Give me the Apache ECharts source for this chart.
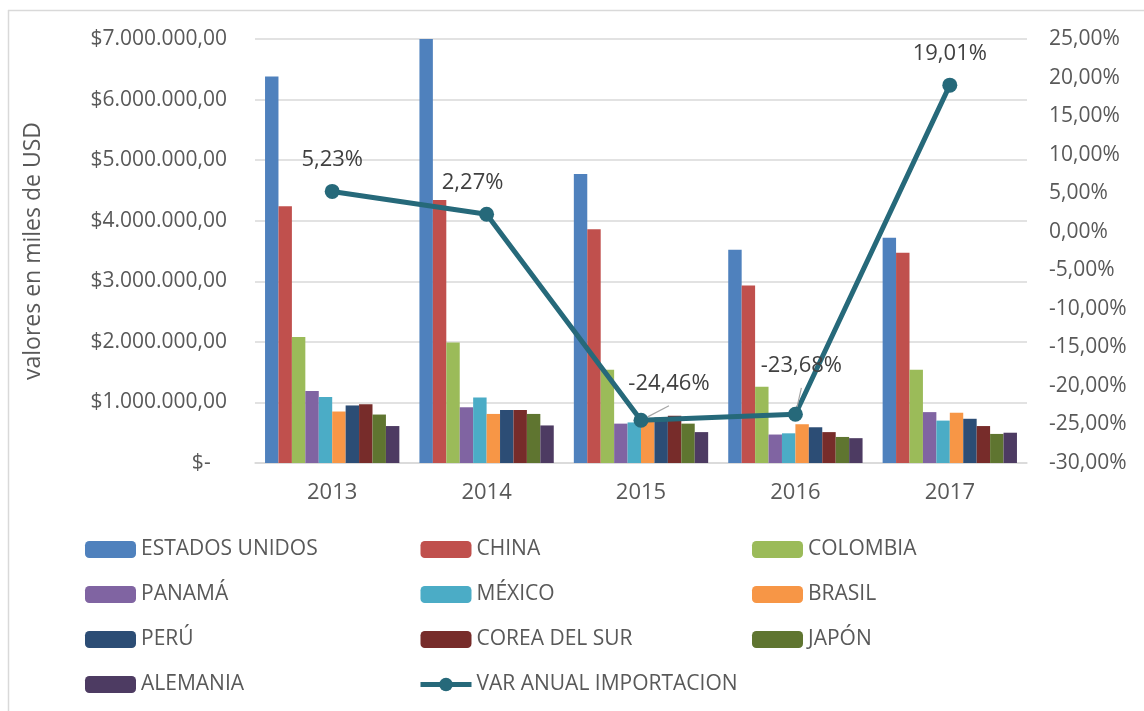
<!DOCTYPE html>
<html>
<head>
<meta charset="utf-8">
<style>
  html, body { margin: 0; padding: 0; background: #fff; }
  #main { width: 1144px; height: 711px; }
</style>
<script src="https://cdn.jsdelivr.net/npm/echarts@6/dist/echarts.min.js"></script>
</head>
<body>
<div id="main"></div>
<script>
// años
var years = ['2013', '2014', '2015', '2016', '2017'];

// importaciones por país (miles de USD)
var estadosUnidos = [6380000, 7000000, 4770000, 3520000, 3720000];
var china = [4240000, 4340000, 3860000, 2930000, 3470000];
var colombia = [2080000, 1990000, 1540000, 1260000, 1540000];
var panama = [1190000, 920000, 650000, 470000, 840000];
var mexico = [1090000, 1080000, 670000, 490000, 700000];
var brasil = [850000, 810000, 690000, 640000, 830000];
var peru = [950000, 875000, 750000, 590000, 730000];
var coreaDelSur = [970000, 875000, 780000, 510000, 610000];
var japon = [800000, 810000, 650000, 430000, 480000];
var alemania = [610000, 620000, 510000, 410000, 500000];

// variación anual (%)
var varAnual = [5.23, 2.27, -24.46, -23.68, 19.01];

var FONT = 'Open Sans';
var TXT = '#595959';
var LINE_COLOR = '#26697A';

function fmtMoney(v) {
  if (v === 0) return '$-   ';
  var s = Math.round(v).toString().replace(/\B(?=(\d{3})+(?!\d))/g, '.');
  return '$' + s + ',00';
}
function fmtPct(v) {
  return v.toFixed(2).replace('.', ',') + '%';
}

var countries = [
  ['ESTADOS UNIDOS', estadosUnidos, '#4F81BD'],
  ['CHINA', china, '#C0504D'],
  ['COLOMBIA', colombia, '#9BBB59'],
  ['PANAMÁ', panama, '#8064A2'],
  ['MÉXICO', mexico, '#4BACC6'],
  ['BRASIL', brasil, '#F79646'],
  ['PERÚ', peru, '#2C4D75'],
  ['COREA DEL SUR', coreaDelSur, '#772C2A'],
  ['JAPÓN', japon, '#5F7530'],
  ['ALEMANIA', alemania, '#4D3B62']
];

var series = countries.map(function (c) {
  return {
    name: c[0],
    type: 'bar',
    data: c[1],
    barGap: '0%',
    barCategoryGap: '13%',
    itemStyle: { color: c[2] }
  };
});

// posición de las etiquetas del % (no son datos)
var labelOffsets = [[0, -1], [-14, -1], [28, -6], [6, -18], [0, -1]];
var leader = [false, false, true, true, false];

series.push({
  name: 'VAR ANUAL IMPORTACION',
  type: 'line',
  yAxisIndex: 1,
  z: 10,
  data: varAnual.map(function (v, i) {
    return {
      value: v,
      label: { offset: labelOffsets[i] },
      labelLine: { show: leader[i] }
    };
  }),
  symbol: 'circle',
  symbolSize: 15,
  lineStyle: { width: 5, color: LINE_COLOR },
  itemStyle: { color: LINE_COLOR },
  label: {
    show: true,
    position: 'top',
    distance: 12,
    fontFamily: FONT,
    fontSize: 22,
    color: '#404040',
    formatter: function (p) { return fmtPct(p.value); }
  },
  labelLine: { show: false, lineStyle: { color: '#a6a6a6', width: 1.2 } }
});

var legendText = { fontFamily: FONT, fontSize: 21, color: TXT };
function legendCol(left, names) {
  return {
    orient: 'vertical',
    left: left,
    top: 539,
    padding: 0,
    itemWidth: 51,
    itemHeight: 17,
    itemGap: 24,
    textStyle: legendText,
    data: names
  };
}

var chart = echarts.init(document.getElementById('main'));
chart.setOption({
  animation: false,
  textStyle: { fontFamily: FONT },
  graphic: [
    { type: 'line', shape: { x1: 8.5, y1: 10, x2: 8.5, y2: 711 }, style: { stroke: '#d9d9d9', lineWidth: 1.5 } },
    { type: 'line', shape: { x1: 8, y1: 10.5, x2: 1144, y2: 10.5 }, style: { stroke: '#d9d9d9', lineWidth: 1.5 } }
  ],
  legend: [
    legendCol(85, ['ESTADOS UNIDOS', 'PANAMÁ', 'PERÚ', 'ALEMANIA']),
    legendCol(418, ['CHINA', 'MÉXICO', 'COREA DEL SUR',
      { name: 'VAR ANUAL IMPORTACION', lineStyle: { width: 5 } }]),
    legendCol(752, ['COLOMBIA', 'BRASIL', 'JAPÓN'])
  ],
  grid: { left: 255, right: 117, top: 39, bottom: 248 },
  xAxis: {
    type: 'category',
    data: years,
    axisTick: { show: false },
    axisLine: { lineStyle: { color: '#d9d9d9', width: 1.5 } },
    axisLabel: { fontFamily: FONT, fontSize: 22, color: TXT, margin: 19 }
  },
  yAxis: [
    {
      type: 'value',
      min: 0,
      max: 7000000,
      interval: 1000000,
      name: 'valores en miles de USD',
      nameLocation: 'middle',
      nameGap: 210,
      nameTextStyle: { fontFamily: FONT, fontSize: 23, color: TXT },
      axisLine: { show: false },
      axisTick: { show: false },
      splitLine: { lineStyle: { color: '#d9d9d9', width: 1.5 } },
      axisLabel: { fontFamily: FONT, fontSize: 21, color: TXT, margin: 28, formatter: fmtMoney }
    },
    {
      type: 'value',
      min: -30,
      max: 25,
      interval: 5,
      position: 'right',
      axisLine: { show: false },
      axisTick: { show: false },
      splitLine: { show: false },
      axisLabel: { fontFamily: FONT, fontSize: 21, color: TXT, margin: 22, formatter: fmtPct }
    }
  ],
  series: series
});
</script>
</body>
</html>
